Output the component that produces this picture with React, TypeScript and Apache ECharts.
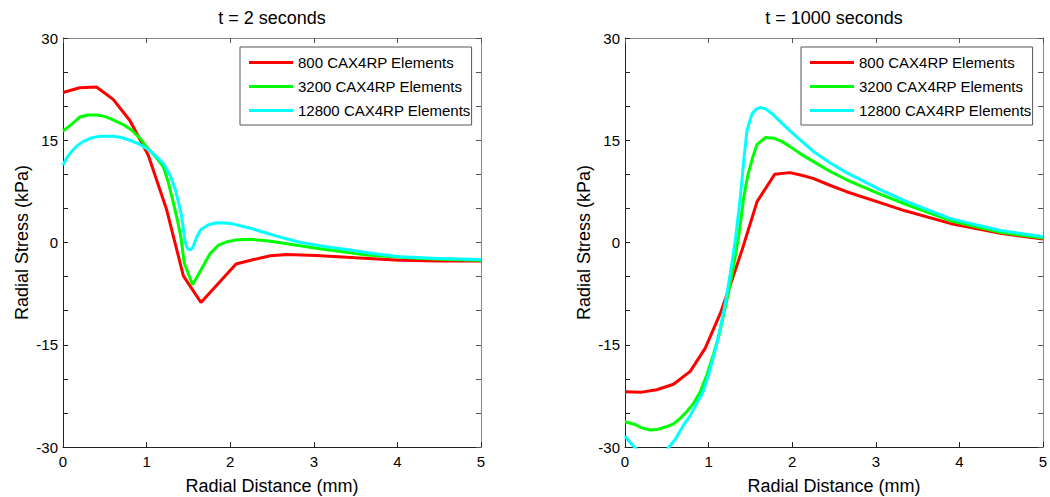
import React, { useEffect, useRef } from "react";
import * as echarts from "echarts";

const titles = ["t = 2 seconds", "t = 1000 seconds"];
const seriesNames = ["800 CAX4RP Elements", "3200 CAX4RP Elements", "12800 CAX4RP Elements"];
const seriesColors = ["#ff0000", "#00ff00", "#00ffff"];
const xTicks = [0, 1, 2, 3, 4, 5];
const yTickLabels = [-30, -15, 0, 15, 30];

// t = 2 s
const left800: [number, number][] = [
  [0, 22.0], [0.2, 22.7], [0.4, 22.8], [0.6, 21.0], [0.8, 17.9], [1.02, 12.8],
  [1.24, 4.8], [1.44, -4.9], [1.65, -8.8], [2.07, -3.15], [2.28, -2.5], [2.48, -1.95],
  [2.68, -1.75], [3.03, -1.9], [3.5, -2.25], [4.03, -2.6], [4.5, -2.7], [5, -2.7],
];
const left3200: [number, number][] = [
  [0, 16.35], [0.1, 17.3], [0.2, 18.4], [0.3, 18.7], [0.4, 18.7], [0.5, 18.5], [0.6, 18.0],
  [0.72, 17.3], [0.82, 16.5], [0.92, 15.3], [1.0, 14.0], [1.1, 12.7], [1.2, 11.1], [1.26, 8.8],
  [1.32, 5.8], [1.37, 3.2], [1.41, 0.8], [1.45, -3.0], [1.55, -6.2], [1.66, -3.8], [1.76, -1.6],
  [1.86, -0.4], [1.96, 0.1], [2.06, 0.35], [2.24, 0.47], [2.44, 0.25], [2.64, -0.12],
  [3.03, -0.85], [3.63, -1.83], [4.23, -2.3], [4.6, -2.5], [5, -2.6],
];
const left12800: [number, number][] = [
  [0, 11.36], [0.05, 12.5], [0.1, 13.3], [0.17, 14.2], [0.24, 14.8], [0.34, 15.35], [0.44, 15.6],
  [0.6, 15.6], [0.7, 15.4], [0.8, 15.0], [0.9, 14.5], [1.0, 13.8], [1.1, 12.8], [1.2, 11.6],
  [1.28, 9.9], [1.34, 7.9], [1.38, 6.0], [1.42, 3.8], [1.46, 0.2], [1.49, -0.9], [1.52, -1.1],
  [1.55, -0.8], [1.6, 0.8], [1.65, 1.9], [1.74, 2.6], [1.84, 2.9], [1.94, 2.85], [2.04, 2.7],
  [2.24, 2.1], [2.44, 1.35], [2.64, 0.65], [2.83, 0.03], [3.13, -0.6], [3.43, -1.1],
  [3.73, -1.65], [4.03, -2.1], [4.5, -2.35], [5, -2.5],
];

// t = 1000 s
const right800: [number, number][] = [
  [0, -21.9], [0.2, -21.95], [0.38, -21.6], [0.58, -20.8], [0.78, -18.9], [0.96, -15.5],
  [1.14, -10.4], [1.28, -5.5], [1.4, -1.1], [1.58, 6.0], [1.79, 10.0], [1.97, 10.25],
  [2.1, 9.9], [2.25, 9.4], [2.45, 8.4], [2.65, 7.45], [3.05, 5.85], [3.35, 4.65],
  [3.89, 2.8], [4.49, 1.35], [5, 0.5],
];
const right3200: [number, number][] = [
  [0, -26.3], [0.12, -26.7], [0.2, -27.2], [0.3, -27.5], [0.4, -27.4], [0.5, -27.0],
  [0.58, -26.6], [0.66, -25.8], [0.74, -24.8], [0.82, -23.6], [0.9, -21.9], [0.98, -19.4],
  [1.06, -16.3], [1.12, -13.8], [1.18, -10.6], [1.24, -7.2], [1.3, -3.4], [1.36, 1.0],
  [1.42, 6.6], [1.47, 9.9], [1.53, 12.6], [1.58, 14.4], [1.68, 15.4], [1.78, 15.3],
  [1.88, 14.8], [1.97, 14.1], [2.1, 13.0], [2.25, 11.9], [2.45, 10.45], [2.65, 9.2],
  [3.05, 7.1], [3.35, 5.65], [3.89, 3.2], [4.49, 1.5], [5, 0.65],
];
const right12800: [number, number][] = [
  [0, -28.4], [0.06, -29.3], [0.12, -30.1], [0.24, -31.2], [0.36, -31.4], [0.48, -30.7],
  [0.6, -28.9], [0.7, -26.8], [0.78, -25.4], [0.86, -23.6], [0.93, -22.0], [1.0, -19.4],
  [1.08, -15.8], [1.14, -12.5], [1.2, -8.9], [1.26, -4.5], [1.32, 0.37], [1.38, 6.7], [1.42, 12.0],
  [1.46, 16.5], [1.52, 18.9], [1.57, 19.6], [1.62, 19.8], [1.68, 19.6], [1.76, 18.9],
  [1.86, 17.7], [1.99, 16.2], [2.1, 15.0], [2.25, 13.4], [2.45, 11.7], [2.65, 10.25],
  [3.05, 7.75], [3.35, 6.1], [3.89, 3.5], [4.49, 1.75], [5, 0.85],
];

const leftData = [left800, left3200, left12800];
const rightData = [right800, right3200, right12800];

const FONT = "Liberation Sans, Arial, sans-serif";

export default function App() {
  const ref = useRef<HTMLDivElement>(null);
  useEffect(() => {
    if (!ref.current) return;
    const chart = echarts.init(ref.current, undefined, { renderer: "svg" });
    const plotLefts = [63, 625];
    const plotW = 418;
    const plotTop = 38;
    const plotH = 409;

    const grids = plotLefts.map((l) => ({
      left: l, top: plotTop, width: plotW, height: plotH, containLabel: false, outerBoundsMode: "none",
    }));
    const xAxes: any[] = [];
    const yAxes: any[] = [];
    plotLefts.forEach((_, gi) => {
      xAxes.push({
        type: "value", gridIndex: gi, position: "bottom", min: 0, max: 5, interval: 1,
        name: "Radial Distance (mm)", nameLocation: "middle", nameGap: 30,
        nameTextStyle: { fontFamily: FONT, fontSize: 18, color: "#000" },
        axisLine: { show: true, onZero: false, lineStyle: { color: "#222", width: 1 } },
        axisTick: { show: true, inside: true, length: 5, lineStyle: { color: "#222" } },
        axisLabel: {
          fontFamily: FONT, fontSize: 15, color: "#000", margin: 7,
          formatter: (v: number) => (xTicks.includes(v) ? String(v) : ""),
        },
        splitLine: { show: false },
      });
      xAxes.push({
        type: "value", gridIndex: gi, position: "top", min: 0, max: 5, interval: 1,
        axisLine: { show: true, onZero: false, lineStyle: { color: "#888", width: 1 } },
        axisTick: { show: true, inside: true, length: 5, lineStyle: { color: "#555" } },
        axisLabel: { show: false },
        splitLine: { show: false },
      });
      yAxes.push({
        type: "value", gridIndex: gi, position: "left", min: -30, max: 30, interval: 5,
        name: "Radial Stress (kPa)", nameLocation: "middle", nameGap: 32,
        nameTextStyle: { fontFamily: FONT, fontSize: 18, color: "#000" },
        axisLine: { show: true, onZero: false, lineStyle: { color: "#222", width: 1 } },
        axisTick: { show: true, inside: true, length: 5, lineStyle: { color: "#222" } },
        axisLabel: {
          fontFamily: FONT, fontSize: 15, color: "#000", margin: 5,
          formatter: (v: number) => (yTickLabels.includes(v) ? String(v) : ""),
        },
        splitLine: { show: false },
      });
      yAxes.push({
        type: "value", gridIndex: gi, position: "right", min: -30, max: 30, interval: 5,
        axisLine: { show: true, onZero: false, lineStyle: { color: "#888", width: 1 } },
        axisTick: { show: true, inside: true, length: 5, lineStyle: { color: "#555" } },
        axisLabel: { show: false },
        splitLine: { show: false },
      });
    });

    const series: any[] = [];
    [leftData, rightData].forEach((set, gi) => {
      set.forEach((d, si) => {
        series.push({
          type: "line", name: seriesNames[si], xAxisIndex: gi * 2, yAxisIndex: gi * 2,
          data: d, showSymbol: false, symbol: "none", clip: true,
          lineStyle: { color: seriesColors[si], width: 3 },
          itemStyle: { color: seriesColors[si] },
          z: 2 + si,
        });
      });
    });

    const legendLefts = [240, 801];
    chart.setOption({
      animation: false,
      title: titles.map((t, i) => ({
        text: t, left: plotLefts[i] + plotW / 2, top: 9, textAlign: "center", padding: 0,
        textStyle: { fontFamily: FONT, fontSize: 18, fontWeight: "normal", color: "#000" },
      })),
      legend: legendLefts.map((l) => ({
        left: l, top: 47, orient: "vertical", data: seriesNames,
        icon: "rect", itemWidth: 44, itemHeight: 3, itemGap: 9,
        padding: [8, 1, 7, 9], borderColor: "#555", borderWidth: 1, backgroundColor: "#fff",
        textStyle: { fontFamily: FONT, fontSize: 15, color: "#000", padding: [0, 0, 0, 0] },
        selectedMode: false,
      })),
      grid: grids,
      xAxis: xAxes,
      yAxis: yAxes,
      series,
    });
    return () => chart.dispose();
  }, []);
  return <div ref={ref} style={{ width: 1050, height: 497, position: "absolute", left: 0, top: 0, background: "#fff" }} />;
}
